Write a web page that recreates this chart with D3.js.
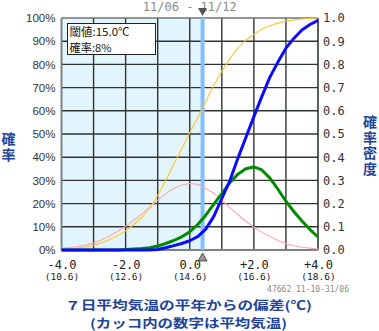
<!DOCTYPE html>
<html>
<head>
<meta charset="utf-8">
<script src="https://cdn.jsdelivr.net/npm/d3@7"></script>
<style>
  body { margin: 0; background: #fff; }
  svg { display: block; }
  .vtitle { writing-mode: vertical-rl; text-orientation: upright; }
</style>
</head>
<body>
<script>
// 7-day mean temperature anomaly (°C) sampled every 0.25
const anomalies = [-4, -3.75, -3.5, -3.25, -3, -2.75, -2.5, -2.25, -2, -1.75, -1.5, -1.25, -1, -0.75, -0.5, -0.25,
  0, 0.25, 0.5, 0.75, 1, 1.25, 1.5, 1.75, 2, 2.25, 2.5, 2.75, 3, 3.25, 3.5, 3.75, 4];

// climatological cumulative probability (yellow)
const climCdf = [0.003, 0.005, 0.008, 0.013, 0.02, 0.03, 0.045, 0.062, 0.082, 0.11, 0.14, 0.18, 0.235, 0.30, 0.37, 0.435,
  0.505, 0.57, 0.64, 0.71, 0.77, 0.825, 0.87, 0.905, 0.93, 0.952, 0.967, 0.978, 0.987, 0.992, 0.996, 0.998, 1.0];

// climatological probability density (pink)
const climPdf = [0.008, 0.011, 0.015, 0.021, 0.03, 0.044, 0.06, 0.08, 0.102, 0.127, 0.155, 0.185, 0.215, 0.243, 0.265, 0.28,
  0.287, 0.283, 0.265, 0.245, 0.215, 0.183, 0.153, 0.124, 0.099, 0.077, 0.058, 0.041, 0.027, 0.018, 0.012, 0.008, 0.005];

// forecast probability density (green)
const fcstPdf = [0, 0, 0, 0, 0, 0, 0, 0, 0.002, 0.004, 0.006, 0.01, 0.017, 0.028, 0.041, 0.057,
  0.078, 0.11, 0.15, 0.198, 0.243, 0.29, 0.327, 0.35, 0.358, 0.345, 0.31, 0.262, 0.21, 0.165, 0.125, 0.088, 0.056];

// forecast cumulative probability (blue)
const fcstCdf = [0, 0, 0, 0, 0, 0, 0, 0, 0, 0, 0, 0, 0.002, 0.01, 0.019, 0.028,
  0.04, 0.058, 0.09, 0.145, 0.222, 0.298, 0.395, 0.485, 0.575, 0.662, 0.745, 0.81, 0.87, 0.913, 0.948, 0.972, 0.99];

const threshold = 0.4;          // anomaly of the 15.0°C threshold
const normalMean = 14.6;        // climatological mean temperature
const pctTicks = [0, 10, 20, 30, 40, 50, 60, 70, 80, 90, 100];
const denTicks = [0, 0.1, 0.2, 0.3, 0.4, 0.5, 0.6, 0.7, 0.8, 0.9, 1.0];
const xGridTicks = [-3, -2, -1, 0, 1, 2, 3];
const xLabelTicks = [-4, -2, 0, 2, 4];
const legendLines = ["閾値:15.0℃", "確率:8%"];
const periodLabel = "11/06 - 11/12";
const stampLabel = "47662 11-10-31/06";
const xTitle = ["７日平均気温の平年からの偏差(℃)", "(カッコ内の数字は平均気温)"];
const leftTitle = "確率";
const rightTitle = "確率密度";

const W = 379, H = 331;
const svg = d3.select("body").append("svg").attr("width", W).attr("height", H);

const x = d3.scaleLinear().domain([-4, 4]).range([61.5, 318]);
const yPct = d3.scaleLinear().domain([0, 100]).range([250, 18]);
const yDen = d3.scaleLinear().domain([0, 1]).range([250, 18]);

const titleColor = "#22449a";
const mono = "'DejaVu Sans Mono', 'Liberation Mono', monospace";
const jp = "'Noto Sans CJK JP', sans-serif";

// period label
svg.append("text")
  .attr("x", x(0)).attr("y", 11).attr("text-anchor", "middle")
  .attr("font-family", mono).attr("font-size", 12).attr("fill", "#8a8a8a")
  .text(periodLabel);

// shaded region below the threshold
svg.append("rect")
  .attr("x", x(-4)).attr("y", yPct(100))
  .attr("width", x(threshold) - x(-4))
  .attr("height", yPct(0) - yPct(100))
  .attr("fill", "#e3f5fc");

// grid
const grid = svg.append("g").attr("stroke", "#2f3535").attr("stroke-width", 1.4);
grid.selectAll(".gx").data(xGridTicks).join("line")
  .attr("x1", d => x(d)).attr("x2", d => x(d))
  .attr("y1", yPct(100)).attr("y2", yPct(0));
grid.selectAll(".gy").data(pctTicks.slice(1, -1)).join("line")
  .attr("x1", x(-4)).attr("x2", x(4))
  .attr("y1", d => yPct(d)).attr("y2", d => yPct(d));

// frame: top and left/bottom in grey, right side dark
svg.append("line").attr("x1", x(-4)).attr("x2", x(4)).attr("y1", yPct(100)).attr("y2", yPct(100))
  .attr("stroke", "#6e7676").attr("stroke-width", 1.6);
svg.append("line").attr("x1", x(4)).attr("x2", x(4)).attr("y1", yPct(100)).attr("y2", yPct(0))
  .attr("stroke", "#2f3535").attr("stroke-width", 1.6);
svg.append("line").attr("x1", x(-4)).attr("x2", x(-4)).attr("y1", yPct(100)).attr("y2", yPct(0))
  .attr("stroke", "#7a8282").attr("stroke-width", 2);
svg.append("line").attr("x1", x(-4)).attr("x2", x(4)).attr("y1", yPct(0)).attr("y2", yPct(0))
  .attr("stroke", "#7a8282").attr("stroke-width", 2);

// threshold marker line
svg.append("line")
  .attr("x1", x(threshold)).attr("x2", x(threshold))
  .attr("y1", yPct(100)).attr("y2", yPct(0))
  .attr("stroke", "#80c0ff").attr("stroke-width", 4);

// curves
const line = d3.line().x(d => x(d[0])).y(d => yDen(d[1]));
const series = [
  { values: climPdf, color: "#ffa8a8", width: 1.1 },
  { values: climCdf, color: "#ffc42e", width: 1.1 },
  { values: fcstPdf, color: "#008a00", width: 3 },
  { values: fcstCdf, color: "#0a0aff", width: 3 }
];
svg.append("g").selectAll("path").data(series).join("path")
  .attr("d", s => line(anomalies.map((a, i) => [a, s.values[i]])))
  .attr("fill", "none")
  .attr("stroke", s => s.color)
  .attr("stroke-width", s => s.width)
  .attr("stroke-linejoin", "round");

// left axis (probability)
const leftAxis = svg.append("g").attr("transform", `translate(${x(-4)},0)`)
  .call(d3.axisLeft(yPct).tickValues(pctTicks).tickFormat(d => d + "%").tickSize(0).tickPadding(6));
leftAxis.select(".domain").remove();
leftAxis.selectAll("text").attr("font-family", "'Liberation Sans', Arial, sans-serif")
  .attr("font-size", 11.5).attr("fill", "#333");

// right axis (density)
const rightAxis = svg.append("g").attr("transform", `translate(${x(4)},0)`)
  .call(d3.axisRight(yDen).tickValues(denTicks).tickFormat(d3.format(".1f")).tickSize(0).tickPadding(5));
rightAxis.select(".domain").remove();
rightAxis.selectAll("text").attr("font-family", mono).attr("font-size", 12).attr("fill", "#333");

// bottom axis: anomaly with mean temperature underneath
const fmt = d => (d > 0 ? "+" : "") + d.toFixed(1);
const bottomAxis = svg.append("g").attr("transform", `translate(0,${yPct(0)})`)
  .call(d3.axisBottom(x).tickValues(xLabelTicks).tickFormat(fmt).tickSize(0).tickPadding(10));
bottomAxis.select(".domain").remove();
bottomAxis.selectAll("text")
  .attr("font-family", mono).attr("font-size", 12).attr("fill", "#222");
bottomAxis.selectAll(".tick").append("text")
  .attr("y", 30).attr("text-anchor", "middle")
  .attr("font-family", mono).attr("font-size", 9.5).attr("fill", "#222")
  .text(d => "(" + (normalMean + d).toFixed(1) + ")");

// threshold triangles
const tx = x(threshold);
svg.append("path")
  .attr("d", `M${tx - 4.5},8 L${tx + 4.5},8 L${tx},16 Z`)
  .attr("fill", "#555");
svg.append("path")
  .attr("d", `M${tx},253 L${tx + 4.5},261 L${tx - 4.5},261 Z`)
  .attr("fill", "#9a9a9a").attr("stroke", "#333").attr("stroke-width", 0.8);

// legend box
svg.append("rect").attr("x", 67.5).attr("y", 23.5).attr("width", 88).attr("height", 31)
  .attr("fill", "#fff").attr("stroke", "#222").attr("stroke-width", 1);
svg.append("text")
  .attr("font-family", jp).attr("font-size", 10.8).attr("fill", "#111")
  .selectAll("tspan").data(legendLines).join("tspan")
  .attr("x", 69.5).attr("y", (d, i) => 36 + i * 16)
  .attr("textLength", (d, i) => i === 0 ? 60 : 42)
  .attr("lengthAdjust", "spacingAndGlyphs")
  .text(d => d);

// stamp
svg.append("text").attr("x", 349).attr("y", 292).attr("text-anchor", "end")
  .attr("font-family", mono).attr("font-size", 8).attr("fill", "#8a8a8a")
  .text(stampLabel);

// x-axis title (two lines)
svg.append("text")
  .attr("font-family", jp).attr("font-size", 12.2).attr("font-weight", "bold")
  .attr("fill", titleColor)
  .selectAll("tspan").data(xTitle).join("tspan")
  .attr("x", (d, i) => i === 0 ? 65 : 90)
  .attr("y", (d, i) => 309.5 + i * 18)
  .attr("textLength", (d, i) => i === 0 ? 247 : 197)
  .attr("lengthAdjust", "spacingAndGlyphs")
  .text(d => d);

// vertical axis titles
svg.append("text").attr("class", "vtitle")
  .attr("x", 8.5).attr("y", 132)
  .attr("font-family", jp).attr("font-size", 14).attr("font-weight", "bold")
  .attr("letter-spacing", 1.5)
  .attr("fill", titleColor).text(leftTitle);
svg.append("text").attr("class", "vtitle")
  .attr("x", 370).attr("y", 115)
  .attr("font-family", jp).attr("font-size", 14).attr("font-weight", "bold")
  .attr("letter-spacing", 1.5)
  .attr("fill", titleColor).text(rightTitle);
</script>
</body>
</html>
